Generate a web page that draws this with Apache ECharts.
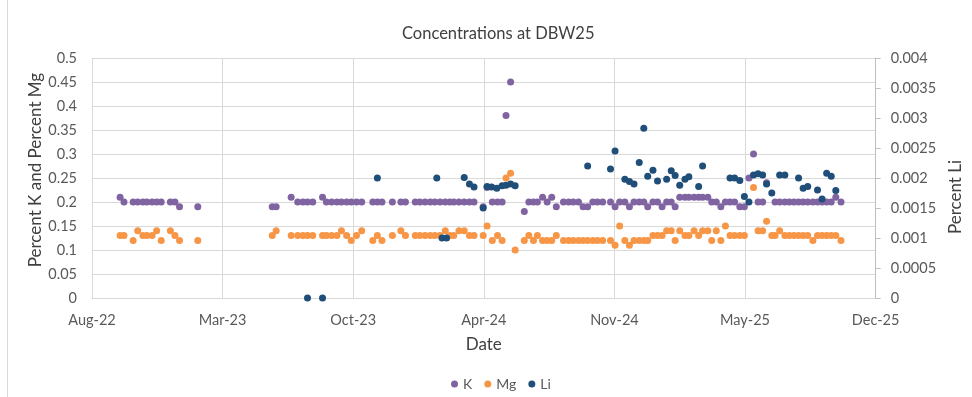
<!DOCTYPE html>
<html>
<head>
<meta charset="utf-8">
<script src="https://cdn.jsdelivr.net/npm/echarts@6/dist/echarts.min.js"></script>
<style>
  html, body { margin: 0; padding: 0; background: #fff; }
  #chart { width: 972px; height: 397px; }
</style>
</head>
<body>
<div id="chart"></div>
<script>
// Sampling dates shared by the K and Mg measurements
const sampleDates = [
  '2022-10-09','2022-10-15','2022-10-29','2022-11-05','2022-11-13','2022-11-19','2022-11-27','2022-12-04','2022-12-11','2022-12-25','2023-01-01','2023-01-08','2023-02-05',
  '2023-05-30','2023-06-05','2023-06-28','2023-07-08','2023-07-16','2023-07-23','2023-07-31','2023-08-15','2023-08-21','2023-08-29','2023-09-06','2023-09-13','2023-09-21','2023-09-28','2023-10-06','2023-10-14','2023-10-31','2023-11-07','2023-11-14','2023-11-30','2023-12-13','2023-12-20',
  '2024-01-04','2024-01-11','2024-01-19','2024-01-27','2024-02-03','2024-02-11','2024-02-19','2024-02-26','2024-03-03','2024-03-11','2024-03-19','2024-03-27','2024-04-03','2024-04-17','2024-04-23','2024-05-01','2024-05-09','2024-05-16','2024-05-22','2024-05-29','2024-06-05','2024-06-19','2024-06-26','2024-07-03','2024-07-09','2024-07-17','2024-07-24','2024-07-31','2024-08-07','2024-08-18','2024-08-26','2024-09-02','2024-09-10','2024-09-17','2024-09-24','2024-10-02','2024-10-09','2024-10-17','2024-10-29','2024-11-05','2024-11-12','2024-11-20','2024-11-27','2024-12-04','2024-12-12','2024-12-19','2024-12-25',
  '2025-01-02','2025-01-09','2025-01-16','2025-01-23','2025-01-30','2025-02-05','2025-02-12','2025-02-20','2025-02-26','2025-03-06','2025-03-13','2025-03-19','2025-03-27','2025-04-02','2025-04-09','2025-04-16','2025-04-23','2025-04-30','2025-05-07','2025-05-15','2025-05-22','2025-05-29','2025-06-05','2025-06-12','2025-06-19','2025-06-25','2025-07-03','2025-07-08','2025-07-15','2025-07-23','2025-07-30','2025-08-06','2025-08-13','2025-08-20','2025-08-27','2025-09-04','2025-09-11','2025-09-18','2025-09-25','2025-10-02','2025-10-09','2025-10-17'
];

// Percent K
const kPercent = [
  0.21,0.2,0.2,0.2,0.2,0.2,0.2,0.2,0.2,0.2,0.2,0.19,0.19,
  0.19,0.19,0.21,0.2,0.2,0.2,0.2,0.21,0.2,0.2,0.2,0.2,0.2,0.2,0.2,0.2,0.2,0.2,0.2,0.2,0.2,0.2,
  0.2,0.2,0.2,0.2,0.2,0.2,0.2,0.2,0.2,0.2,0.2,0.2,0.2,0.19,0.23,0.2,0.2,0.2,0.38,0.45,null,0.18,0.2,0.2,0.2,0.21,0.2,0.21,0.19,0.2,0.2,0.2,0.2,0.19,0.19,0.2,0.2,0.2,0.2,0.19,0.2,0.2,0.19,0.2,0.2,0.2,0.19,
  0.2,0.2,0.19,0.2,0.2,0.19,0.21,0.21,0.21,0.21,0.21,0.21,0.21,0.2,0.2,0.19,0.2,0.2,0.2,0.19,0.19,0.25,0.3,0.2,0.2,0.24,null,0.2,0.2,0.2,0.2,0.2,0.2,0.2,0.2,0.2,0.2,0.2,0.2,0.2,0.21,0.2
];

// Percent Mg
const mgPercent = [
  0.13,0.13,0.12,0.14,0.13,0.13,0.13,0.14,0.12,0.14,0.13,0.12,0.12,
  0.13,0.14,0.13,0.13,0.13,0.13,0.13,0.13,0.13,0.13,0.13,0.14,0.13,0.12,0.13,0.14,0.12,0.13,0.12,0.13,0.14,0.13,
  0.13,0.13,0.13,0.13,0.13,0.13,0.14,0.13,0.13,0.14,0.14,0.13,0.13,0.13,0.15,0.12,0.13,0.12,0.25,0.26,0.1,0.12,0.13,0.12,0.13,0.12,0.12,0.12,0.13,0.12,0.12,0.12,0.12,0.12,0.12,0.12,0.12,0.12,0.12,0.11,0.15,0.12,0.11,0.12,0.12,0.12,0.12,
  0.13,0.13,0.13,0.14,0.14,0.12,0.14,0.13,0.13,0.14,0.13,0.14,0.14,0.12,0.14,0.12,0.15,0.13,0.13,0.13,0.13,null,0.23,0.14,0.14,0.16,0.13,0.13,0.14,0.13,0.13,0.13,0.13,0.13,0.13,0.12,0.13,0.13,0.13,0.13,0.13,0.12
];

// Li measurements (plotted against the right-hand axis)
const liDates = [
  '2023-07-23','2023-08-15','2023-11-07','2024-02-06','2024-02-14','2024-02-21','2024-03-19','2024-03-27','2024-04-03','2024-04-17','2024-04-23','2024-04-30','2024-05-08','2024-05-16','2024-05-22','2024-05-29','2024-06-05',
  '2024-09-24','2024-10-29','2024-11-05','2024-11-20','2024-11-27','2024-12-04','2024-12-12','2024-12-19','2024-12-25',
  '2025-01-02','2025-01-09','2025-01-23','2025-01-30','2025-02-05','2025-02-12','2025-02-20','2025-02-26','2025-03-13','2025-03-19','2025-04-30','2025-05-07','2025-05-15','2025-05-22','2025-05-29','2025-06-05','2025-06-12','2025-06-19','2025-06-25','2025-07-03','2025-07-15','2025-07-23','2025-08-13','2025-08-20','2025-08-27','2025-09-11','2025-09-18','2025-09-25','2025-10-02','2025-10-09'
];
const liPercent = [
  0,0,0.002,0.002,0.001,0.001,0.00201,0.0019,0.00185,0.0015,0.00186,0.00185,0.00183,0.00187,0.00188,0.0019,0.00187,
  0.0022,0.00215,0.00245,0.00198,0.00194,0.0019,0.00226,0.00283,0.00203,
  0.00213,0.00195,0.00198,0.00212,0.00204,0.00188,0.00198,0.00202,0.00186,0.0022,0.002,0.002,0.00196,0.00169,0.0016,0.00205,0.00207,0.00205,0.0019,0.00175,0.00205,0.00205,0.002,0.00183,0.00186,0.0018,0.00165,0.00208,0.00203,0.00179
];

// Date axis: spreadsheet day serials, labelled every 200 days
const dateAxisStart = 44800;   // 27 Aug 2022
const dateAxisEnd = 46000;     // 9 Dec 2025
const dateAxisStep = 200;
const monthNames = ['Jan','Feb','Mar','Apr','May','Jun','Jul','Aug','Sep','Oct','Nov','Dec'];

const DAY_MS = 86400000;
const SERIAL_EPOCH = Date.UTC(1899, 11, 30);
function toSerial(iso) {
  const [y, m, d] = iso.split('-').map(Number);
  return Math.round((Date.UTC(y, m - 1, d) - SERIAL_EPOCH) / DAY_MS);
}
function serialLabel(v) {
  const dt = new Date(SERIAL_EPOCH + v * DAY_MS);
  return monthNames[dt.getUTCMonth()] + '-' + String(dt.getUTCFullYear()).slice(2);
}
function pairs(dates, values) {
  return dates.map((d, i) => [toSerial(d), values[i]]).filter(p => p[1] !== null);
}

const FONT = 'Lato, "Open Sans", sans-serif';
const TEXT = '#595959';
const GRID = '#d9d9d9';

const chart = echarts.init(document.getElementById('chart'), null, { renderer: 'canvas' });
chart.setOption({
  animation: false,
  backgroundColor: '#fff',
  textStyle: { fontFamily: FONT },
  title: {
    text: 'Concentrations at DBW25',
    left: 397,
    top: 20,
    textStyle: { fontFamily: FONT, fontSize: 16.5, fontWeight: 'normal', color: '#404040' }
  },
  legend: {
    left: 446,
    top: 372,
    icon: 'circle',
    itemWidth: 7,
    itemHeight: 7,
    itemGap: 12,
    textStyle: { fontFamily: FONT, fontSize: 14, color: TEXT },
    data: ['K', 'Mg', 'Li']
  },
  graphic: [{
    type: 'line',
    shape: { x1: 7.5, y1: 0, x2: 7.5, y2: 397 },
    style: { stroke: GRID, lineWidth: 1 },
    silent: true
  }],
  grid: { left: 92, right: 91, top: 58, bottom: 99 },
  xAxis: {
    type: 'value',
    min: dateAxisStart,
    max: dateAxisEnd,
    interval: dateAxisStep,
    name: 'Date',
    nameLocation: 'middle',
    nameGap: 38,
    nameTextStyle: { fontFamily: FONT, fontSize: 17, color: '#404040' },
    axisLine: { show: true, lineStyle: { color: GRID } },
    axisTick: { show: false },
    axisLabel: { formatter: serialLabel, margin: 15, fontFamily: FONT, fontSize: 14.5, color: TEXT },
    splitLine: { show: true, lineStyle: { color: GRID } }
  },
  yAxis: [{
    type: 'value',
    min: 0,
    max: 0.5,
    interval: 0.05,
    name: 'Percent K and Percent Mg',
    nameLocation: 'middle',
    nameRotate: 90,
    nameGap: 48,
    nameMoveOverlap: false,
    nameTextStyle: { fontFamily: FONT, fontSize: 17, color: '#404040', padding: [0, 0, 0, 16] },
    axisLine: { show: false },
    axisTick: { show: false },
    axisLabel: { margin: 15, fontFamily: FONT, fontSize: 14.5, color: TEXT },
    splitLine: { show: true, lineStyle: { color: GRID } }
  }, {
    type: 'value',
    position: 'right',
    min: 0,
    max: 0.004,
    interval: 0.0005,
    name: 'Percent Li',
    nameLocation: 'middle',
    nameRotate: 90,
    nameGap: 70,
    nameTextStyle: { fontFamily: FONT, fontSize: 17, color: '#404040', padding: [0, 38, 0, 0] },
    axisLine: { show: true, lineStyle: { color: '#bfbfbf' } },
    axisTick: { show: true, length: 5, lineStyle: { color: '#bfbfbf' } },
    axisLabel: { margin: 15, fontFamily: FONT, fontSize: 14.5, color: TEXT },
    splitLine: { show: false }
  }],
  series: [{
    name: 'K',
    type: 'scatter',
    yAxisIndex: 0,
    symbol: 'circle',
    symbolSize: 7,
    itemStyle: { color: '#8064A2', opacity: 1 },
    data: pairs(sampleDates, kPercent)
  }, {
    name: 'Mg',
    type: 'scatter',
    yAxisIndex: 0,
    symbol: 'circle',
    symbolSize: 7,
    itemStyle: { color: '#F79646', opacity: 1 },
    data: pairs(sampleDates, mgPercent)
  }, {
    name: 'Li',
    type: 'scatter',
    yAxisIndex: 1,
    symbol: 'circle',
    symbolSize: 7,
    itemStyle: { color: '#1F4E79', opacity: 1 },
    data: pairs(liDates, liPercent)
  }]
});
</script>
</body>
</html>
